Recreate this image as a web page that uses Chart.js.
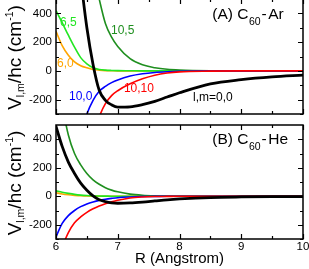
<!DOCTYPE html>
<html>
<head>
<meta charset="utf-8">
<script src="https://cdn.jsdelivr.net/npm/chart.js@4.4.1/dist/chart.umd.min.js"></script>
<style>
  body { margin: 0; width: 309px; height: 269px; background: #fff; position: relative; overflow: hidden; }
  canvas { position: absolute; left: 0; }
  #chart-ar { top: -1px; }
  #chart-he { top: 124px; }
</style>
</head>
<body>
<canvas id="chart-ar" width="309" height="116"></canvas>
<canvas id="chart-he" width="309" height="145"></canvas>
<script>
// separation R (Angstrom), shared by every curve
const R = [6.0, 6.1, 6.2, 6.3, 6.4, 6.5, 6.6, 6.7, 6.8, 6.9, 7.0, 7.2, 7.4, 7.6, 7.8, 8.0, 8.5, 9.0, 9.5, 10.0];

// (A) C60-Ar, V_lm/hc in cm^-1
const arV00   = [3000, 2100, 1450, 980, 640, 300, 45, -135, -205, -236, -252, -250, -235, -212, -182, -152, -90, -61, -42, -30];
const arV105  = [4700, 3400, 2500, 1800, 1300, 960, 700, 500, 330, 235, 170, 85, 42, 22, 11, 6, 1, 0, 0, 0];
const arV65   = [420, 335, 248, 165, 92, 48, 22, 10, 5, 3, 2, 1, 0, 0, 0, 0, 0, 0, 0, 0];
const arV60   = [275, 175, 108, 62, 36, 21, 10, 5, 2, 1, 0, 0, 0, 0, 0, 0, 0, 0, 0, 0];
const arV100  = [-2050, -1400, -950, -650, -440, -300, -205, -142, -108, -82, -63, -36, -20, -11, -6, -3, -1, 0, 0, 0];
const arV1010 = [-4400, -3000, -2000, -1400, -950, -650, -450, -320, -228, -172, -138, -90, -55, -30, -15, -7, -2, 0, 0, 0];

// (B) C60-He
const heV00   = [490, 350, 240, 160, 92, 42, 2, -25, -38, -46, -49, -47, -41, -33, -25, -19, -9, -5, -3, -2];
const heV105  = [900, 640, 430, 300, 220, 160, 115, 84, 60, 43, 31, 15, 7, 3, 1, 0, 0, 0, 0, 0];
const heV65   = [38, 28, 20, 13, 8, 5, 3, 1.5, 1, 0, 0, 0, 0, 0, 0, 0, 0, 0, 0, 0];
const heV60   = [25, 16, 10, 6, 3, 2, 1, 0, 0, 0, 0, 0, 0, 0, 0, 0, 0, 0, 0, 0];
const heV100  = [-285, -190, -136, -100, -73, -54, -40, -29, -21, -15, -10, -5, -2, -1, 0, 0, 0, 0, 0, 0];
const heV1010 = [-500, -360, -255, -186, -145, -113, -88, -68, -52, -39, -28, -12, -5, -2, -1, 0, 0, 0, 0, 0];

// axis ticks
const xTicks = [6, 7, 8, 9, 10];
const xMinor = [6.5, 7.5, 8.5, 9.5];
const yTicks = [-200, 0, 200, 400];
const yMinor = [-300, -100, 100, 300];

const FONT = "'Liberation Sans', Arial, Helvetica, sans-serif";
Chart.defaults.font.family = FONT;
Chart.defaults.color = '#000';

const colors = {
    black: '#000000',
    darkGreen: '#1f8f1f',
    lightGreen: '#22e622',
    orange: '#ffa500',
    blue: '#0000ff',
    red: '#ff0000'
};

// curve labels in panel A (placed in data coordinates)
const arLabels = [
    { text: '6,5', r: 6.065, v: 309, color: colors.lightGreen },
    { text: '10,5', r: 6.89, v: 258, color: colors.darkGreen },
    { text: '6,0', r: 6.016, v: 24, color: colors.orange },
    { text: '10,0', r: 6.21, v: -203, color: colors.blue },
    { text: '10,10', r: 7.10, v: -147, color: colors.red },
    { text: 'l,m=0,0', r: 8.22, v: -213, color: colors.black }
];

function series(values) {
    return R.map((r, i) => ({ x: r, y: values[i] }));
}

function line(values, color, width) {
    return {
        data: series(values),
        borderColor: color,
        borderWidth: width,
        pointRadius: 0,
        fill: false,
        cubicInterpolationMode: 'monotone',
        clip: 0
    };
}

// draw a run of text pieces (normal / sub / super) starting at x, baseline y
function drawRuns(ctx, runs, x, y) {
    let cx = x;
    runs.forEach(p => {
        ctx.font = p.size + 'px ' + FONT;
        ctx.fillText(p.t, cx, y + (p.dy || 0));
        cx += ctx.measureText(p.t).width + (p.gap || 0);
    });
    return cx - x;
}

function runsWidth(ctx, runs) {
    let w = 0;
    runs.forEach(p => {
        ctx.font = p.size + 'px ' + FONT;
        w += ctx.measureText(p.t).width + (p.gap || 0);
    });
    return w;
}

const yTitleRuns = [
    { t: 'V', size: 19 },
    { t: 'l,m', size: 10.5, dy: 3 },
    { t: '/hc (cm', size: 19 },
    { t: '-1', size: 10.5, dy: -8 },
    { t: ')', size: 19 }
];

// frame and inside ticks on all four sides
const frame = {
    id: 'frame',
    afterDraw(chart) {
        const ctx = chart.ctx;
        const a = chart.chartArea;
        const x = chart.scales.x;
        const y = chart.scales.y;
        ctx.save();
        ctx.strokeStyle = 'black';
        ctx.setLineDash([]);
        ctx.lineWidth = 1.5;
        ctx.beginPath();
        ctx.rect(a.left, a.top, a.right - a.left, a.bottom - a.top);
        ctx.stroke();

        ctx.lineWidth = 1.2;
        ctx.beginPath();
        xTicks.concat(xMinor).forEach(v => {
            const len = xTicks.includes(v) ? 5 : 3;
            const px = Math.round(x.getPixelForValue(v)) + 0.5;
            ctx.moveTo(px, a.bottom); ctx.lineTo(px, a.bottom - len);
            ctx.moveTo(px, a.top); ctx.lineTo(px, a.top + len);
        });
        yTicks.concat(yMinor).forEach(v => {
            const len = yTicks.includes(v) ? 5 : 3;
            const py = Math.round(y.getPixelForValue(v)) + 0.5;
            ctx.moveTo(a.left, py); ctx.lineTo(a.left + len, py);
            ctx.moveTo(a.right, py); ctx.lineTo(a.right - len, py);
        });
        ctx.stroke();
        ctx.restore();
    }
};

// y title, panel title and curve labels
const annotations = {
    id: 'annotations',
    afterDatasetsDraw(chart, args, opts) {
        const { ctx, chartArea: a, scales: { x, y } } = chart;
        ctx.save();
        ctx.fillStyle = '#000';
        ctx.textBaseline = 'alphabetic';
        ctx.textAlign = 'left';
        ctx.save();
        ctx.translate(21, (a.top + a.bottom) / 2 + 1);
        ctx.rotate(-Math.PI / 2);
        drawRuns(ctx, yTitleRuns, -runsWidth(ctx, yTitleRuns) / 2, 0);
        ctx.restore();

        drawRuns(ctx, opts.title, x.getPixelForValue(8.53), y.getPixelForValue(opts.titleV));

        (opts.labels || []).forEach(l => {
            ctx.fillStyle = l.color;
            ctx.font = '12px ' + FONT;
            ctx.fillText(l.text, x.getPixelForValue(l.r), y.getPixelForValue(l.v));
        });
        ctx.restore();
    }
};

function makePanel(id, sets, showX, title, titleV, labels, padding) {
    const ctx = document.getElementById(id).getContext('2d');
    return new Chart(ctx, {
        type: 'line',
        data: {
            datasets: [
                line(sets[0], colors.black, 2.8),
                line(sets[1], colors.red, 1.6),
                line(sets[2], colors.blue, 1.6),
                line(sets[3], colors.darkGreen, 1.6),
                line(sets[4], colors.lightGreen, 1.6),
                line(sets[5], colors.orange, 1.6)
            ]
        },
        options: {
            responsive: false,
            animation: false,
            devicePixelRatio: 1,
            layout: { padding: padding },
            plugins: {
                legend: { display: false },
                tooltip: { enabled: false },
                annotations: { title: title, titleV: titleV, labels: labels }
            },
            scales: {
                x: {
                    type: 'linear',
                    min: 6,
                    max: 10,
                    display: showX,
                    grid: { display: false, drawTicks: false },
                    border: { display: false },
                    ticks: { font: { size: 11.5 }, padding: 1, maxRotation: 0 },
                    afterBuildTicks: axis => { axis.ticks = xTicks.map(v => ({ value: v })); },
                    afterFit: axis => {
                        axis.height = showX ? 30 : 0;
                        axis.paddingLeft = 0;
                        axis.paddingRight = 0;
                    },
                    title: {
                        display: true,
                        text: 'R (Angstrom)',
                        font: { size: 15 },
                        padding: { top: 0, bottom: 1 }
                    }
                },
                y: {
                    min: -300,
                    max: 500,
                    grid: { display: false, drawTicks: false },
                    border: { display: false },
                    ticks: { font: { size: 11.5 }, padding: 4 },
                    afterBuildTicks: axis => { axis.ticks = yTicks.map(v => ({ value: v })); },
                    afterFit: axis => { axis.width = 56; axis.paddingTop = 0; axis.paddingBottom = 0; }
                }
            }
        },
        plugins: [annotations, frame]
    });
}

const titleA = [
    { t: '(A) C', size: 15.5, gap: 0.5 },
    { t: '60', size: 10.5, dy: 6, gap: 1 },
    { t: '-', size: 15.5, gap: 1.5 },
    { t: 'Ar', size: 15.5 }
];
const titleB = [
    { t: '(B) C', size: 15.5, gap: 0.5 },
    { t: '60', size: 10.5, dy: 6, gap: 1 },
    { t: '-', size: 15.5, gap: 1.5 },
    { t: 'He', size: 15.5 }
];

makePanel('chart-ar', [arV00, arV1010, arV100, arV105, arV65, arV60], false,
    titleA, 359, arLabels, { top: 0, right: 6, bottom: 1, left: 0 });
makePanel('chart-he', [heV00, heV1010, heV100, heV105, heV65, heV60], true,
    titleB, 364, [], { top: 1, right: 6, bottom: 0, left: 0 });
</script>
</body>
</html>
